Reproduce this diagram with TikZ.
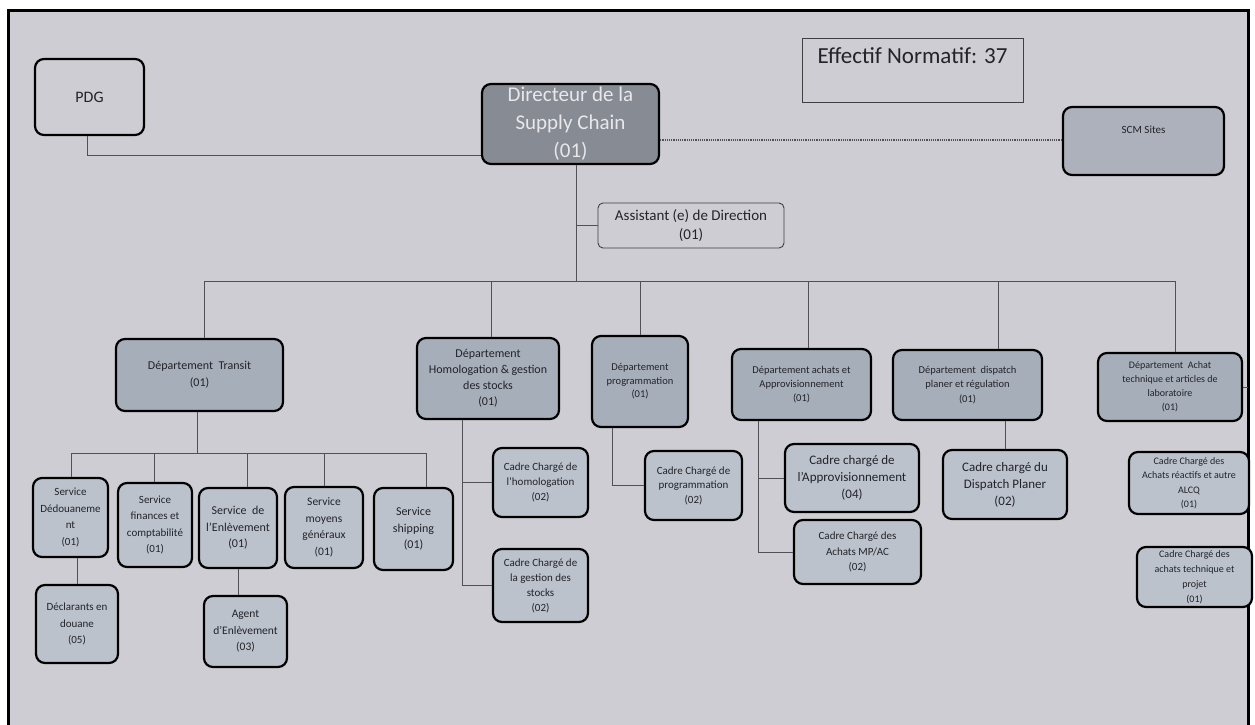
\documentclass[tikz,border=0pt]{standalone}
\usepackage{fontspec}
\setmainfont{Carlito}
\newcommand\fsz[2]{\fontsize{#1}{#2}\selectfont}
\definecolor{paper}{RGB}{206,205,211}
\definecolor{deptc}{RGB}{166,174,185}
\definecolor{subc}{RGB}{188,194,204}
\definecolor{dirc}{RGB}{134,139,148}
\definecolor{dirtext}{RGB}{232,232,236}
\definecolor{scmc}{RGB}{172,177,187}
\definecolor{linec}{RGB}{80,80,86}
\definecolor{txt}{RGB}{35,35,40}
\tikzset{
  boxbase/.style={draw=black, line width=2.2pt, rounded corners=9pt, align=center, inner sep=1pt, text=txt},
  dept/.style={boxbase, fill=deptc},
  sub/.style={boxbase, fill=subc},
  plainbox/.style={boxbase},
  thinbox/.style={draw=black!75, line width=0.9pt, rounded corners=5pt, align=center, inner sep=1pt, text=txt},
  conn/.style={draw=linec, line width=1pt},
  dotconn/.style={draw=linec, line width=1.2pt, densely dotted},
}
\begin{document}
\begin{tikzpicture}[x=1pt, y=-1pt]
\useasboundingbox (0,0) rectangle (1255,724);
\fill[white] (0,0) rectangle (1255,724);
\fill[paper] (8,10) rectangle (1248,740);
\draw[line width=3pt, black] (8,740) -- (8,10) -- (1248,10) -- (1248,740);

% top level
\node[plainbox, minimum width=109, minimum height=76, font={\fsz{16}{19}}] (pdg) at (89.5,97) {PDG};
\node[boxbase, fill=dirc, text=dirtext, minimum width=177, minimum height=80, font={\fsz{21}{28}}] (dir) at (570.5,124) {Directeur de la\\Supply Chain\\(01)};
\node[thinbox, rounded corners=0pt, minimum width=221, minimum height=64, text height=16pt, text depth=30pt, font={\fsz{23}{26}}] (eff) at (912.5,70) {Effectif Normatif: 37};
\node[boxbase, fill=scmc, minimum width=161, minimum height=68, text height=8pt, text depth=24pt, font={\fsz{11}{13}}] (scm) at (1143.5,141) {SCM Sites};
\node[thinbox, minimum width=186, minimum height=45, font={\fsz{15}{19}}] (asst) at (691,225.5) {Assistant (e) de Direction\\(01)};

% departments
\node[dept, minimum width=167, minimum height=72, font={\fsz{12}{17}}] (transit) at (199.5,375) {Département~~Transit\\(01)};
\node[dept, minimum width=142, minimum height=81, font={\fsz{12}{16}}] (homo) at (488,378.5) {Département\\Homologation \& gestion\\des stocks\\(01)};
\node[dept, minimum width=96, minimum height=91, font={\fsz{10.5}{13.5}}] (prog) at (640,381.5) {Département\\programmation\\(01)};
\node[dept, minimum width=139, minimum height=71, font={\fsz{10.5}{14}}] (achats) at (801.5,384.5) {Département achats et\\Approvisionnement\\(01)};
\node[dept, minimum width=149, minimum height=70, font={\fsz{10.5}{14.5}}] (disp) at (967.5,385) {Département~~dispatch\\planer et régulation\\(01)};
\node[dept, minimum width=144, minimum height=68, font={\fsz{10}{14}}] (atech) at (1170,387) {Département~~Achat\\technique et articles de\\laboratoire\\(01)};

% services of transit
\node[sub, minimum width=75, minimum height=79, font={\fsz{11}{16.5}}] (ded) at (70.5,517.5) {Service\\Dédouaneme\\nt\\(01)};
\node[sub, minimum width=74, minimum height=84, font={\fsz{11}{16.5}}] (fin) at (155,525) {Service\\finances et\\comptabilité\\(01)};
\node[sub, minimum width=78, minimum height=80, font={\fsz{12}{16.5}}] (enl) at (238,528) {Service~~de\\l'Enlèvement\\(01)};
\node[sub, minimum width=78, minimum height=81, font={\fsz{11.5}{16.5}}] (moy) at (324,527.5) {Service\\moyens\\généraux\\(01)};
\node[sub, minimum width=79, minimum height=82, font={\fsz{12}{16.5}}] (ship) at (413.5,529) {Service\\shipping\\(01)};
\node[sub, minimum width=82, minimum height=78, font={\fsz{11}{16.5}}] (decl) at (77,624) {Déclarants en\\douane\\(05)};
\node[sub, minimum width=83, minimum height=71, font={\fsz{11.5}{16.5}}] (agent) at (245.5,631.5) {Agent\\d'Enlèvement\\(03)};

% cadres
\node[sub, minimum width=95, minimum height=69, font={\fsz{11}{15}}] (cadH) at (540.5,482.5) {Cadre Chargé de\\l'homologation\\(02)};
\node[sub, minimum width=95, minimum height=73, font={\fsz{11}{15}}] (cadG) at (540.5,585.5) {Cadre Chargé de\\la gestion des\\stocks\\(02)};
\node[sub, minimum width=97, minimum height=69, font={\fsz{11}{14.5}}] (cadP) at (693.5,485.5) {Cadre Chargé de\\programmation\\(02)};
\node[sub, minimum width=134, minimum height=68, font={\fsz{13}{17}}] (appro) at (852,478) {Cadre chargé de\\l'Approvisionnement\\(04)};
\node[sub, minimum width=127, minimum height=64, font={\fsz{11}{15.5}}] (mpac) at (857.5,552) {Cadre Chargé des\\Achats MP/AC\\(02)};
\node[sub, minimum width=124, minimum height=69, font={\fsz{13}{17}}] (cadD) at (1005,484.5) {Cadre chargé du\\Dispatch Planer\\(02)};
\node[sub, minimum width=120, minimum height=62, font={\fsz{10}{14.5}}] (alcq) at (1189,483) {Cadre Chargé des\\Achats réactifs et autre\\ALCQ\\(01)};
\node[sub, minimum width=115, minimum height=60, font={\fsz{10}{15}}] (tproj) at (1194.5,577) {Cadre Chargé des\\achats technique et\\projet\\(01)};

% top connectors
\coordinate (pj) at (87,155);
\draw[conn] (pdg.south -| pj) -- (pj) -- (pj -| dir.west);
\coordinate (dj) at (0,140);
\draw[dotconn] (dir.east |- dj) -- (scm.west |- dj);
\coordinate (trk) at (576,281);
\draw[conn] (dir.south -| trk) -- (trk);
\draw[conn] (asst.west -| trk) -- (asst.west);
\coordinate (busL) at (204,281);
\coordinate (busR) at (1175,281);
\draw[conn] (busL) -- (busR);
\coordinate (d1) at (204,281);
\coordinate (d2) at (491,281);
\coordinate (d3) at (640,281);
\coordinate (d4) at (808,281);
\coordinate (d5) at (998,281);
\coordinate (d6) at (1175,281);
\draw[conn] (d1) -- (d1 |- transit.north);
\draw[conn] (d2) -- (d2 |- homo.north);
\draw[conn] (d3) -- (d3 |- prog.north);
\draw[conn] (d4) -- (d4 |- achats.north);
\draw[conn] (d5) -- (d5 |- disp.north);
\draw[conn] (d6) -- (d6 |- atech.north);

% transit services
\coordinate (tb) at (197,453);
\draw[conn] (transit.south -| tb) -- (tb);
\coordinate (sbL) at (71,453);
\coordinate (sbR) at (426,453);
\draw[conn] (sbL) -- (sbR);
\coordinate (s1) at (71,453);
\coordinate (s2) at (154,453);
\coordinate (s3) at (247,453);
\coordinate (s4) at (324,453);
\coordinate (s5) at (426,453);
\draw[conn] (s1) -- (s1 |- ded.north);
\draw[conn] (s2) -- (s2 |- fin.north);
\draw[conn] (s3) -- (s3 |- enl.north);
\draw[conn] (s4) -- (s4 |- moy.north);
\draw[conn] (s5) -- (s5 |- ship.north);
\draw[conn] (decl.north |- ded.south) -- (decl.north);
\draw[conn] (enl.south) -- (enl.south |- agent.north);

% homologation
\coordinate (hb) at (462,585.5);
\draw[conn] (homo.south -| hb) -- (hb) -- (cadG.west);
\draw[conn] (cadH.west -| hb) -- (cadH.west);
% programmation
\coordinate (pb) at (612,485.5);
\draw[conn] (prog.south -| pb) -- (pb) -- (cadP.west);
% achats
\coordinate (ab) at (758,552);
\draw[conn] (achats.south -| ab) -- (ab) -- (mpac.west);
\draw[conn] (appro.west -| ab) -- (appro.west);
% dispatch
\draw[conn] (cadD.north |- disp.south) -- (cadD.north);
% achat technique
\coordinate (ar) at (1248,387);
\draw[conn] (atech.east) -- (ar);
\end{tikzpicture}
\end{document}
